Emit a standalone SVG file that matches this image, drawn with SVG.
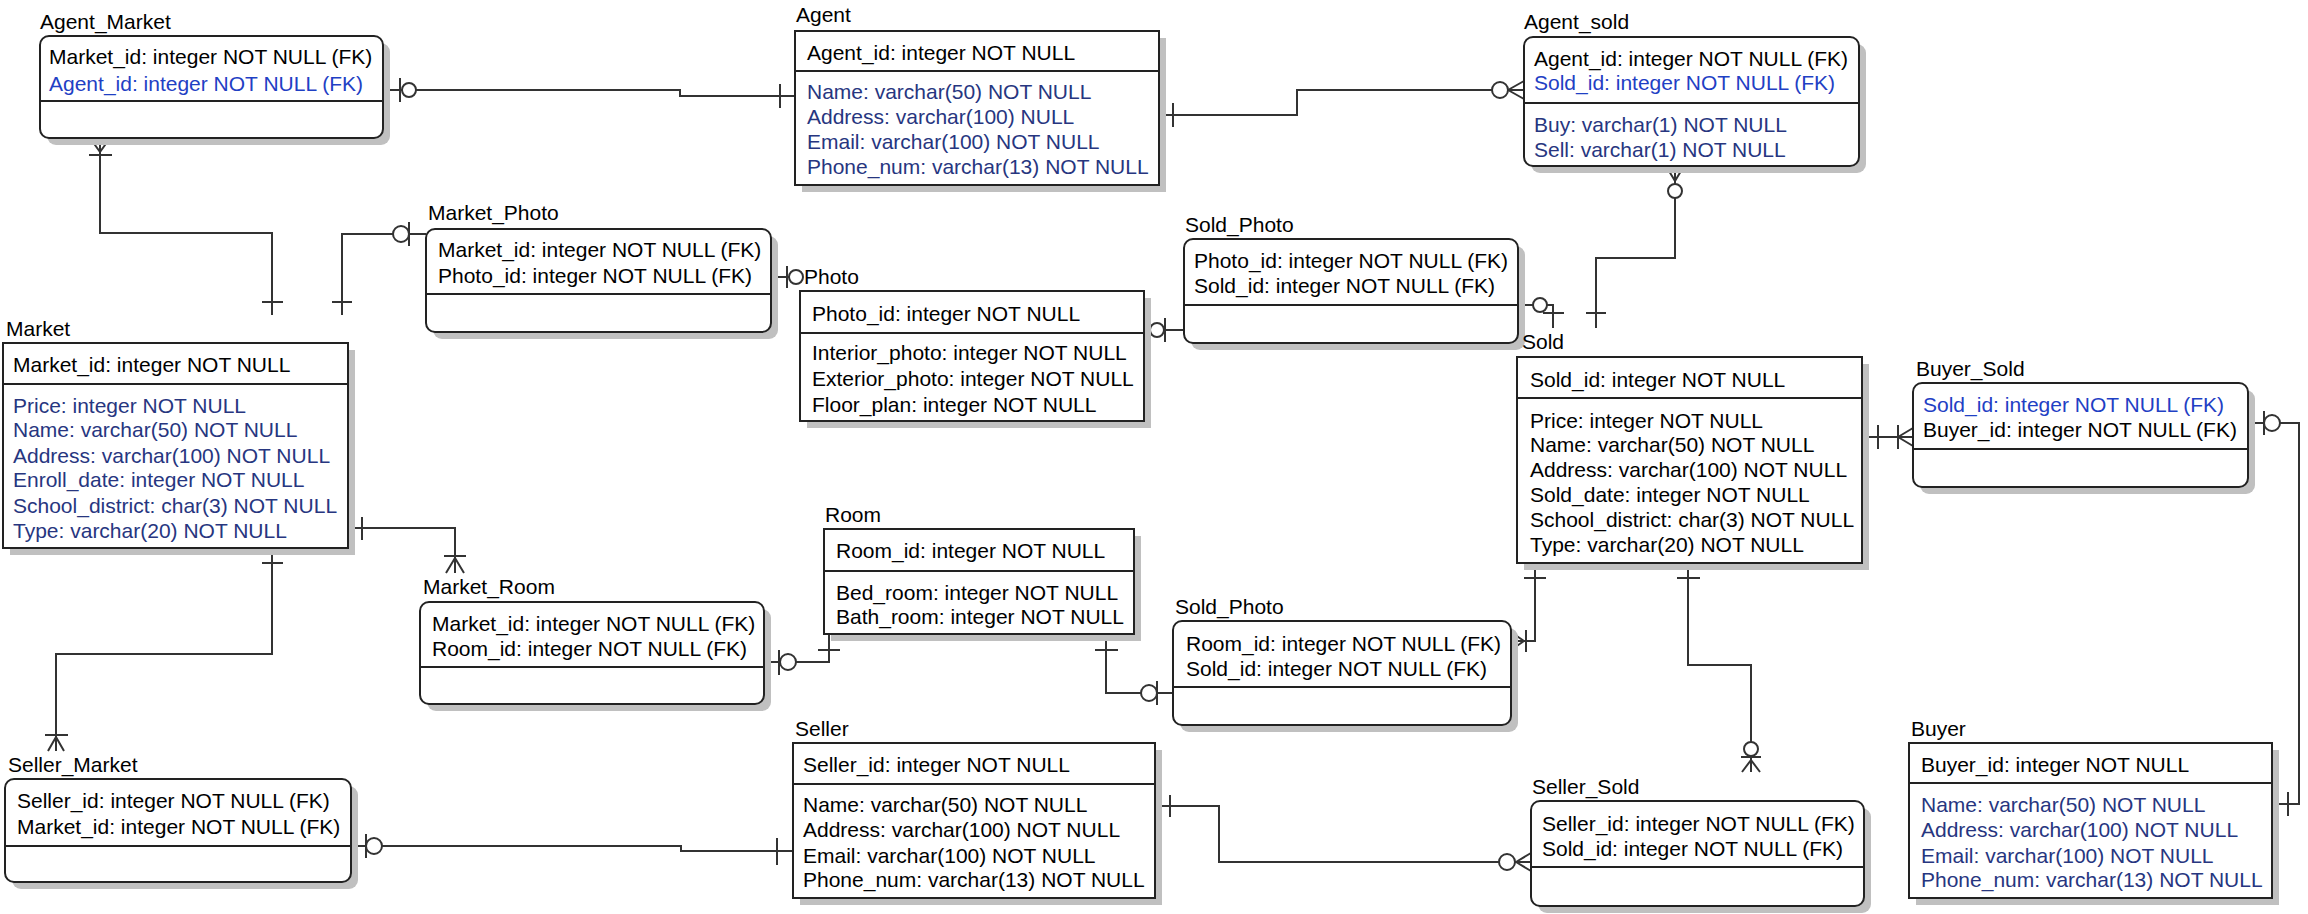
<svg xmlns="http://www.w3.org/2000/svg" width="2308" height="914" viewBox="0 0 2308 914">
<style>
.sh{fill:#c0c0c0;stroke:none}
.bx{fill:#fff;stroke:#222;stroke-width:2}
.dv{stroke:#222;stroke-width:2}
text{font-family:"Liberation Sans",Arial,sans-serif;font-size:21px;fill:#000}
.b{fill:#1f40c4}
.n{fill:#27367f}
.c{fill:none;stroke:#333;stroke-width:2}
.s{fill:none;stroke:#333;stroke-width:2}
.o{fill:#fff;stroke:#333;stroke-width:2}
</style>
<rect width="2308" height="914" fill="#fff"/>
<g id="connectors">
<!-- Agent_Market - Agent -->
<path class="c" d="M383,90 H680 V96 H795"/>
<path class="s" d="M400,78 V102 M780,84 V108"/>
<circle class="o" cx="409" cy="90" r="7"/>
<!-- Agent - Agent_sold -->
<path class="c" d="M1159,115 H1297 V90 H1524"/>
<path class="s" d="M1173,103 V127 M1508,90 L1524,81 M1508,90 L1524,99"/>
<circle class="o" cx="1500" cy="90" r="8"/>
<!-- Agent_Market - Market -->
<path class="c" d="M100,138 V233 H272 V315"/>
<path class="s" d="M100,152 L90,138 M100,152 L110,138 M89,155 H112 M262,302 H283"/>
<!-- Market_Photo - Market -->
<path class="c" d="M426,234 H342 V315"/>
<path class="s" d="M332,302 H352 M409,222 V246"/>
<circle class="o" cx="401" cy="234" r="8"/>
<!-- Market_Photo - Photo -->
<path class="c" d="M771,277 H802"/>
<path class="s" d="M787,266 V288"/>
<circle class="o" cx="796" cy="277" r="7"/>
<!-- Photo - Sold_Photo -->
<path class="c" d="M1144,330 H1184"/>
<circle class="o" cx="1157" cy="330" r="7"/>
<path class="s" d="M1165,318 V342"/>
<!-- Sold_Photo - Sold -->
<path class="c" d="M1518,305 H1553 V328"/>
<circle class="o" cx="1540" cy="305" r="7"/>
<path class="s" d="M1543,313 H1564"/>
<!-- Agent_sold - Sold -->
<path class="c" d="M1675,166 V258 H1596 V328"/>
<path class="s" d="M1675,181 L1666,166 M1675,181 L1684,166 M1586,313 H1606"/>
<circle class="o" cx="1675" cy="191" r="7"/>
<!-- Sold - Seller_Sold -->
<path class="c" d="M1688,563 V665 H1751 V772"/>
<path class="s" d="M1677,578 H1700 M1741,757 H1761 M1751,760 L1742,772 M1751,760 L1760,772"/>
<circle class="o" cx="1751" cy="749" r="7"/>
<!-- Sold - Sold_Photo (bottom) -->
<path class="c" d="M1535,563 V641 H1511"/>
<path class="s" d="M1524,578 H1546 M1526,630 V652 M1524,641 L1511,632 M1524,641 L1511,650"/>
<!-- Room - Sold_Photo (bottom) -->
<path class="c" d="M1106,634 V693 H1173"/>
<path class="s" d="M1095,650 H1118 M1157,681 V705"/>
<circle class="o" cx="1149" cy="693" r="8"/>
<!-- Room - Market_Room -->
<path class="c" d="M829,634 V662 H764"/>
<path class="s" d="M818,650 H840 M779,650 V675"/>
<circle class="o" cx="788" cy="662" r="8"/>
<!-- Market - Market_Room -->
<path class="c" d="M348,528 H455 V573"/>
<path class="s" d="M362,517 V540 M444,556 H466 M455,558 L446,573 M455,558 L464,573"/>
<!-- Market - Seller_Market -->
<path class="c" d="M272,548 V654 H56 V751"/>
<path class="s" d="M262,563 H283 M45,735 H68 M56,737 L48,751 M56,737 L64,751"/>
<!-- Seller_Market - Seller -->
<path class="c" d="M351,846 H681 V851 H793"/>
<path class="s" d="M366,834 V858 M777,838 V865"/>
<circle class="o" cx="374" cy="846" r="8"/>
<!-- Seller - Seller_Sold -->
<path class="c" d="M1155,806 H1219 V862 H1531"/>
<path class="s" d="M1170,795 V817 M1516,862 L1531,853 M1516,862 L1531,871"/>
<circle class="o" cx="1507" cy="862" r="8"/>
<!-- Buyer - Buyer_Sold -->
<path class="c" d="M2272,804 H2299 V423 H2248"/>
<path class="s" d="M2288,792 V816 M2264,411 V435"/>
<circle class="o" cx="2272" cy="423" r="8"/>
<!-- Sold - Buyer_Sold -->
<path class="c" d="M1862,437 H1913"/>
<path class="s" d="M1878,425 V449 M1898,425 V449 M1898,437 L1913,428 M1898,437 L1913,446"/>
</g>

<g id="Agent_Market">
<rect class="sh" x="47" y="43" width="343" height="102" rx="9"/>
<rect class="bx" x="40" y="36" width="343" height="102" rx="9"/>
<line class="dv" x1="40" y1="101" x2="383" y2="101"/>
<text x="40" y="29">Agent_Market</text>
<text x="49" y="64">Market_id: integer NOT NULL (FK)</text>
<text x="49" y="91" class="b">Agent_id: integer NOT NULL (FK)</text>
</g>

<g id="Agent">
<rect class="sh" x="802" y="38" width="364" height="154"/>
<rect class="bx" x="795" y="31" width="364" height="154"/>
<line class="dv" x1="795" y1="71" x2="1159" y2="71"/>
<text x="796" y="22">Agent</text>
<text x="807" y="60">Agent_id: integer NOT NULL</text>
<text x="807" y="99" class="n">Name: varchar(50) NOT NULL</text>
<text x="807" y="124" class="n">Address: varchar(100) NULL</text>
<text x="807" y="149" class="n">Email: varchar(100) NOT NULL</text>
<text x="807" y="174" class="n">Phone_num: varchar(13) NOT NULL</text>
</g>

<g id="Agent_sold">
<rect class="sh" x="1531" y="44" width="335" height="129" rx="9"/>
<rect class="bx" x="1524" y="37" width="335" height="129" rx="9"/>
<line class="dv" x1="1524" y1="103" x2="1859" y2="103"/>
<text x="1524" y="29">Agent_sold</text>
<text x="1534" y="66">Agent_id: integer NOT NULL (FK)</text>
<text x="1534" y="90" class="b">Sold_id: integer NOT NULL (FK)</text>
<text x="1534" y="132" class="n">Buy: varchar(1) NOT NULL</text>
<text x="1534" y="157" class="n">Sell: varchar(1) NOT NULL</text>
</g>

<g id="Market_Photo">
<rect class="sh" x="433" y="236" width="345" height="103" rx="9"/>
<rect class="bx" x="426" y="229" width="345" height="103" rx="9"/>
<line class="dv" x1="426" y1="294" x2="771" y2="294"/>
<text x="428" y="220">Market_Photo</text>
<text x="438" y="257">Market_id: integer NOT NULL (FK)</text>
<text x="438" y="283">Photo_id: integer NOT NULL (FK)</text>
</g>

<g id="Photo">
<rect class="sh" x="807" y="298" width="344" height="130"/>
<rect class="bx" x="800" y="291" width="344" height="130"/>
<line class="dv" x1="800" y1="333" x2="1144" y2="333"/>
<text x="804" y="284">Photo</text>
<text x="812" y="321">Photo_id: integer NOT NULL</text>
<text x="812" y="360">Interior_photo: integer NOT NULL</text>
<text x="812" y="386">Exterior_photo: integer NOT NULL</text>
<text x="812" y="412">Floor_plan: integer NOT NULL</text>
</g>

<g id="Sold_Photo_1">
<rect class="sh" x="1191" y="246" width="334" height="104" rx="9"/>
<rect class="bx" x="1184" y="239" width="334" height="104" rx="9"/>
<line class="dv" x1="1184" y1="305" x2="1518" y2="305"/>
<text x="1185" y="232">Sold_Photo</text>
<text x="1194" y="268">Photo_id: integer NOT NULL (FK)</text>
<text x="1194" y="293">Sold_id: integer NOT NULL (FK)</text>
</g>

<g id="Sold">
<rect class="sh" x="1524" y="364" width="345" height="206"/>
<rect class="bx" x="1517" y="357" width="345" height="206"/>
<line class="dv" x1="1517" y1="398" x2="1862" y2="398"/>
<text x="1522" y="349">Sold</text>
<text x="1530" y="387">Sold_id: integer NOT NULL</text>
<text x="1530" y="428">Price: integer NOT NULL</text>
<text x="1530" y="452">Name: varchar(50) NOT NULL</text>
<text x="1530" y="477">Address: varchar(100) NOT NULL</text>
<text x="1530" y="502">Sold_date: integer NOT NULL</text>
<text x="1530" y="527">School_district: char(3) NOT NULL</text>
<text x="1530" y="552">Type: varchar(20) NOT NULL</text>
</g>

<g id="Buyer_Sold">
<rect class="sh" x="1920" y="390" width="335" height="104" rx="9"/>
<rect class="bx" x="1913" y="383" width="335" height="104" rx="9"/>
<line class="dv" x1="1913" y1="449" x2="2248" y2="449"/>
<text x="1916" y="376">Buyer_Sold</text>
<text x="1923" y="412" class="b">Sold_id: integer NOT NULL (FK)</text>
<text x="1923" y="437">Buyer_id: integer NOT NULL (FK)</text>
</g>

<g id="Market">
<rect class="sh" x="10" y="350" width="345" height="205"/>
<rect class="bx" x="3" y="343" width="345" height="205"/>
<line class="dv" x1="3" y1="384" x2="348" y2="384"/>
<text x="6" y="336">Market</text>
<text x="13" y="372">Market_id: integer NOT NULL</text>
<text x="13" y="413" class="n">Price: integer NOT NULL</text>
<text x="13" y="437" class="n">Name: varchar(50) NOT NULL</text>
<text x="13" y="463" class="n">Address: varchar(100) NOT NULL</text>
<text x="13" y="487" class="n">Enroll_date: integer NOT NULL</text>
<text x="13" y="513" class="n">School_district: char(3) NOT NULL</text>
<text x="13" y="538" class="n">Type: varchar(20) NOT NULL</text>
</g>

<g id="Market_Room">
<rect class="sh" x="427" y="609" width="344" height="102" rx="9"/>
<rect class="bx" x="420" y="602" width="344" height="102" rx="9"/>
<line class="dv" x1="420" y1="667" x2="764" y2="667"/>
<text x="423" y="594">Market_Room</text>
<text x="432" y="631">Market_id: integer NOT NULL (FK)</text>
<text x="432" y="656">Room_id: integer NOT NULL (FK)</text>
</g>

<g id="Room">
<rect class="sh" x="831" y="536" width="310" height="105"/>
<rect class="bx" x="824" y="529" width="310" height="105"/>
<line class="dv" x1="824" y1="571" x2="1134" y2="571"/>
<text x="825" y="522">Room</text>
<text x="836" y="558">Room_id: integer NOT NULL</text>
<text x="836" y="600">Bed_room: integer NOT NULL</text>
<text x="836" y="624">Bath_room: integer NOT NULL</text>
</g>

<g id="Sold_Photo_2">
<rect class="sh" x="1180" y="628" width="338" height="104" rx="9"/>
<rect class="bx" x="1173" y="621" width="338" height="104" rx="9"/>
<line class="dv" x1="1173" y1="687" x2="1511" y2="687"/>
<text x="1175" y="614">Sold_Photo</text>
<text x="1186" y="651">Room_id: integer NOT NULL (FK)</text>
<text x="1186" y="676">Sold_id: integer NOT NULL (FK)</text>
</g>

<g id="Seller_Market">
<rect class="sh" x="12" y="786" width="346" height="103" rx="9"/>
<rect class="bx" x="5" y="779" width="346" height="103" rx="9"/>
<line class="dv" x1="5" y1="846" x2="351" y2="846"/>
<text x="8" y="772">Seller_Market</text>
<text x="17" y="808">Seller_id: integer NOT NULL (FK)</text>
<text x="17" y="834">Market_id: integer NOT NULL (FK)</text>
</g>

<g id="Seller">
<rect class="sh" x="800" y="750" width="362" height="155"/>
<rect class="bx" x="793" y="743" width="362" height="155"/>
<line class="dv" x1="793" y1="784" x2="1155" y2="784"/>
<text x="795" y="736">Seller</text>
<text x="803" y="772">Seller_id: integer NOT NULL</text>
<text x="803" y="812">Name: varchar(50) NOT NULL</text>
<text x="803" y="837">Address: varchar(100) NOT NULL</text>
<text x="803" y="863">Email: varchar(100) NOT NULL</text>
<text x="803" y="887">Phone_num: varchar(13) NOT NULL</text>
</g>

<g id="Seller_Sold">
<rect class="sh" x="1538" y="808" width="333" height="105" rx="9"/>
<rect class="bx" x="1531" y="801" width="333" height="105" rx="9"/>
<line class="dv" x1="1531" y1="867" x2="1864" y2="867"/>
<text x="1532" y="794">Seller_Sold</text>
<text x="1542" y="831">Seller_id: integer NOT NULL (FK)</text>
<text x="1542" y="856">Sold_id: integer NOT NULL (FK)</text>
</g>

<g id="Buyer">
<rect class="sh" x="1916" y="750" width="363" height="155"/>
<rect class="bx" x="1909" y="743" width="363" height="155"/>
<line class="dv" x1="1909" y1="783" x2="2272" y2="783"/>
<text x="1911" y="736">Buyer</text>
<text x="1921" y="772">Buyer_id: integer NOT NULL</text>
<text x="1921" y="812" class="n">Name: varchar(50) NOT NULL</text>
<text x="1921" y="837" class="n">Address: varchar(100) NOT NULL</text>
<text x="1921" y="863" class="n">Email: varchar(100) NOT NULL</text>
<text x="1921" y="887" class="n">Phone_num: varchar(13) NOT NULL</text>
</g>
</svg>
